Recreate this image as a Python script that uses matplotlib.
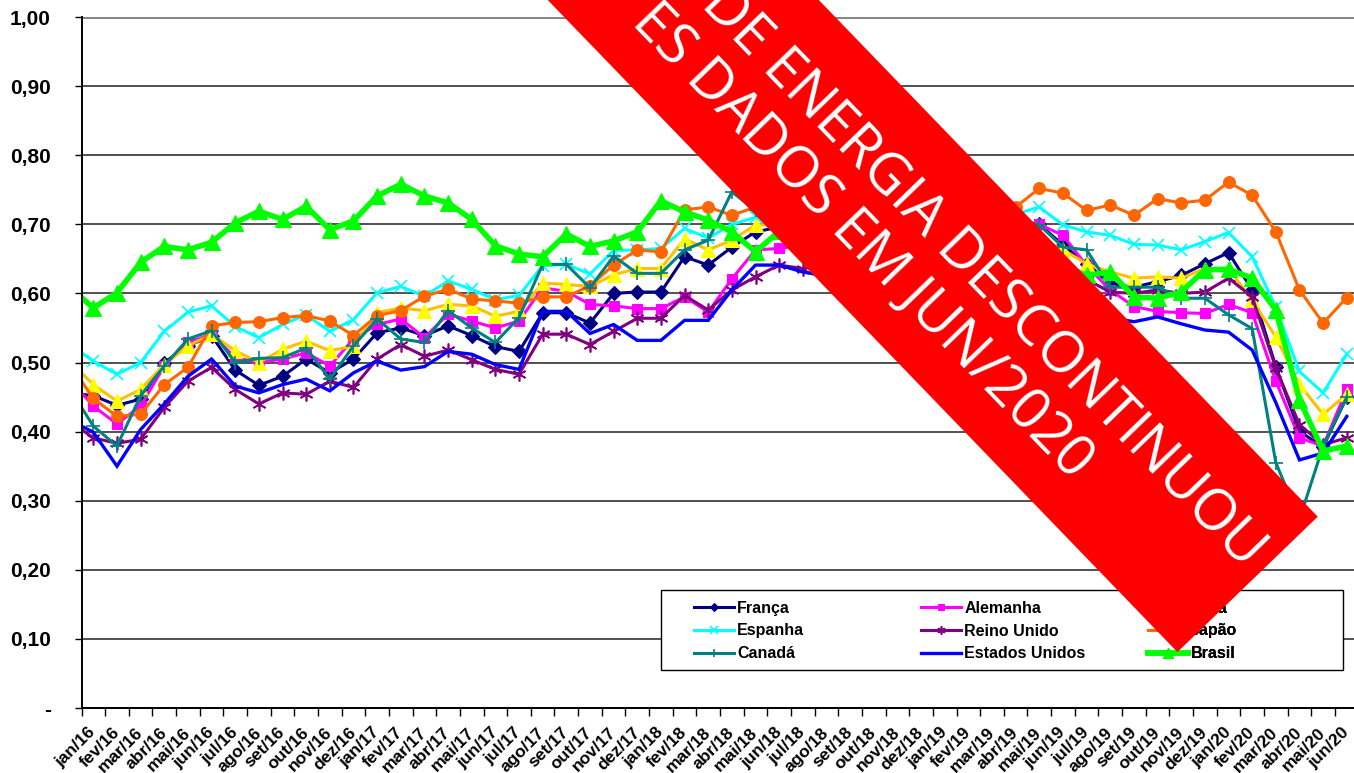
import matplotlib

matplotlib.use("Agg")
import matplotlib.pyplot as plt  # noqa: E402
import numpy as np  # noqa: E402
from matplotlib.patches import Polygon, Rectangle  # noqa: E402

W, H = 1354, 773

MESES = ["jan", "fev", "mar", "abr", "mai", "jun",
         "jul", "ago", "set", "out", "nov", "dez"]
ROTULOS = [f"{m}/{a}" for a in ("16", "17", "18", "19", "20") for m in MESES][:54]

# primeiro valor = dez/15 (fica fora da área do gráfico, só dá a entrada da linha)
FRANCA = [0.456,
          0.452, 0.438, 0.447, 0.500, 0.524, 0.539, 0.489, 0.467, 0.480, 0.505, 0.485, 0.505,
          0.543, 0.550, 0.539, 0.553, 0.539, 0.523, 0.516, 0.572, 0.572, 0.557, 0.600, 0.602,
          0.602, 0.653, 0.641, 0.667, 0.689, 0.696, 0.700, 0.710, 0.715, 0.705, 0.690, 0.675,
          0.680, 0.690, 0.700, 0.705, 0.700, 0.670, 0.643, 0.614, 0.609, 0.617, 0.626, 0.643,
          0.659, 0.605, 0.494, 0.400, 0.378, 0.450]
ALEMANHA = [0.475,
            0.437, 0.411, 0.437, 0.495, 0.529, 0.541, 0.507, 0.500, 0.505, 0.514, 0.495, 0.534,
            0.555, 0.563, 0.536, 0.570, 0.560, 0.550, 0.560, 0.608, 0.603, 0.584, 0.582, 0.578,
            0.578, 0.595, 0.573, 0.621, 0.663, 0.665, 0.670, 0.680, 0.690, 0.685, 0.670, 0.660,
            0.670, 0.680, 0.690, 0.700, 0.700, 0.684, 0.640, 0.605, 0.581, 0.574, 0.572, 0.571,
            0.584, 0.572, 0.473, 0.391, 0.379, 0.461]
ITALIA = [0.502,
          0.468, 0.444, 0.461, 0.497, 0.524, 0.541, 0.517, 0.500, 0.519, 0.531, 0.517, 0.524,
          0.572, 0.579, 0.575, 0.584, 0.582, 0.567, 0.574, 0.615, 0.613, 0.610, 0.627, 0.636,
          0.636, 0.679, 0.663, 0.677, 0.699, 0.700, 0.705, 0.715, 0.720, 0.710, 0.690, 0.670,
          0.675, 0.685, 0.690, 0.685, 0.680, 0.663, 0.643, 0.631, 0.622, 0.624, 0.622, 0.636,
          0.636, 0.590, 0.537, 0.468, 0.425, 0.454]
ESPANHA = [0.526,
           0.502, 0.483, 0.500, 0.545, 0.573, 0.582, 0.552, 0.536, 0.555, 0.569, 0.545, 0.562,
           0.601, 0.610, 0.596, 0.618, 0.606, 0.591, 0.597, 0.640, 0.642, 0.628, 0.662, 0.663,
           0.665, 0.694, 0.680, 0.700, 0.710, 0.715, 0.720, 0.730, 0.735, 0.725, 0.710, 0.695,
           0.700, 0.710, 0.720, 0.715, 0.725, 0.699, 0.689, 0.684, 0.671, 0.670, 0.663, 0.675,
           0.688, 0.653, 0.580, 0.487, 0.456, 0.512]
REINO_UNIDO = [0.415,
               0.391, 0.383, 0.389, 0.435, 0.473, 0.493, 0.461, 0.440, 0.456, 0.454, 0.473, 0.464,
               0.505, 0.526, 0.509, 0.518, 0.504, 0.490, 0.483, 0.541, 0.541, 0.526, 0.545, 0.564,
               0.564, 0.597, 0.576, 0.605, 0.624, 0.641, 0.636, 0.640, 0.650, 0.655, 0.650, 0.640,
               0.645, 0.650, 0.660, 0.665, 0.665, 0.640, 0.620, 0.602, 0.600, 0.605, 0.600, 0.602,
               0.622, 0.595, 0.492, 0.410, 0.381, 0.391]
JAPAO = [0.498,
         0.448, 0.422, 0.425, 0.468, 0.493, 0.553, 0.558, 0.559, 0.565, 0.568, 0.560, 0.539,
         0.568, 0.575, 0.596, 0.606, 0.592, 0.589, 0.586, 0.595, 0.595, 0.611, 0.641, 0.663,
         0.660, 0.721, 0.725, 0.713, 0.725, 0.730, 0.735, 0.740, 0.745, 0.740, 0.730, 0.720,
         0.725, 0.735, 0.740, 0.725, 0.752, 0.745, 0.720, 0.728, 0.713, 0.737, 0.731, 0.735,
         0.761, 0.742, 0.689, 0.605, 0.557, 0.594]
CANADA = [0.462,
          0.408, 0.379, 0.452, 0.495, 0.534, 0.546, 0.500, 0.506, 0.507, 0.521, 0.476, 0.524,
          0.563, 0.534, 0.529, 0.575, 0.550, 0.529, 0.565, 0.642, 0.642, 0.608, 0.654, 0.629,
          0.629, 0.663, 0.677, 0.747, 0.720, 0.700, 0.690, 0.700, 0.710, 0.700, 0.680, 0.660,
          0.670, 0.690, 0.700, 0.705, 0.699, 0.667, 0.663, 0.609, 0.609, 0.609, 0.593, 0.593,
          0.569, 0.549, 0.355, 0.273, 0.379, 0.450]
EUA = [0.417,
       0.399, 0.350, 0.403, 0.440, 0.480, 0.505, 0.466, 0.456, 0.468, 0.476, 0.459, 0.485,
       0.502, 0.489, 0.494, 0.516, 0.512, 0.497, 0.490, 0.574, 0.574, 0.542, 0.555, 0.532,
       0.532, 0.561, 0.561, 0.605, 0.641, 0.641, 0.631, 0.625, 0.630, 0.640, 0.630, 0.610,
       0.600, 0.610, 0.615, 0.620, 0.600, 0.585, 0.570, 0.565, 0.559, 0.566, 0.556, 0.547,
       0.544, 0.518, 0.442, 0.359, 0.369, 0.422]
BRASIL = [0.609,
          0.579, 0.601, 0.645, 0.668, 0.663, 0.674, 0.702, 0.719, 0.707, 0.726, 0.692, 0.705,
          0.741, 0.758, 0.741, 0.731, 0.707, 0.669, 0.657, 0.653, 0.686, 0.668, 0.676, 0.689,
          0.734, 0.718, 0.706, 0.689, 0.660, 0.690, 0.700, 0.710, 0.690, 0.680, 0.670, 0.660,
          0.660, 0.670, 0.660, 0.650, 0.645, 0.640, 0.626, 0.631, 0.595, 0.593, 0.602, 0.634,
          0.635, 0.622, 0.576, 0.446, 0.372, 0.379]

# nome, dados, cor da linha, marcador, cor do marcador, tam. marcador, espessura
SERIES = [
    ("França", FRANCA, "#000080", "D", "#000080", 7.5, 2.2),
    ("Alemanha", ALEMANHA, "#ff00ff", "s", "#ff00ff", 7.5, 2.2),
    ("Itália", ITALIA, "#ffc000", "^", "#ffff00", 9.5, 2.2),
    ("Espanha", ESPANHA, "#00ffff", "x", "#00ffff", 9.0, 2.2),
    ("Reino Unido", REINO_UNIDO, "#800080", (6, 2, 0), "#800080", 10.0, 2.2),
    ("Japão", JAPAO, "#ff6600", "o", "#ff6600", 8.5, 2.2),
    ("Canadá", CANADA, "#008080", "+", "#008080", 10.0, 2.2),
    ("Estados Unidos", EUA, "#0000ff", "None", "#0000ff", 0, 2.4),
    ("Brasil", BRASIL, "#00ff00", "^", "#00ff00", 12.0, 4.0),
]

BOLD = dict(family=["Liberation Sans", "DejaVu Sans"], weight="bold")

fig = plt.figure(figsize=(W / 100, H / 100), dpi=100)
fig.patch.set_facecolor("white")
ax = fig.add_axes([81.5 / W, 1 - 708 / H, (1358.6 - 81.5) / W, (708 - 17) / H])

x = np.arange(-1, 54)
handles = {}
for nome, vals, cor, mk, mcor, ms, lw in SERIES:
    fino = mk in ("x", "+", (6, 2, 0))
    (ln,) = ax.plot(x, vals, color=cor, lw=lw, marker=mk, ms=ms,
                    markerfacecolor=mcor, markeredgecolor=mcor,
                    markeredgewidth=1.2 if fino else 0.8,
                    solid_joinstyle="miter", zorder=2, label=nome)
    handles[nome] = ln

ax.set_xlim(-0.5, 53.5)
ax.set_ylim(0, 1.0)
ax.set_yticks(np.arange(0, 1.001, 0.1))
ax.set_yticklabels(["-"] + [f"{v:.2f}".replace(".", ",")
                            for v in np.arange(0.1, 1.001, 0.1)], **BOLD, fontsize=15)
ax.set_xticks(range(54))
ax.set_xticklabels(ROTULOS, rotation=45, ha="right", va="center",
                   rotation_mode="anchor", fontsize=12.5, **BOLD)
ax.set_xticks(np.arange(-0.5, 54, 1), minor=True)
ax.tick_params(axis="x", which="major", length=0, pad=16)
ax.tick_params(axis="x", which="minor", length=6, width=1, color="black")
ax.tick_params(axis="y", length=5, width=1, color="black", pad=17)

ax.yaxis.grid(True, color="#333333", lw=1.2)
ax.set_axisbelow(True)
for lado in ("top", "right"):
    ax.spines[lado].set_visible(False)
for lado in ("left", "bottom"):
    ax.spines[lado].set_color("black")
    ax.spines[lado].set_linewidth(1.4)
ax.get_ygridlines()[-1].set_color("#888888")
ax.get_ygridlines()[-1].set_linewidth(2.2)

# legenda: caixa única, três colunas com largura fixa
ax.add_patch(Rectangle((661 / W, 1 - 670 / H), (1343 - 661) / W, 80 / H,
                       transform=fig.transFigure, facecolor="white",
                       edgecolor="black", lw=1.0, zorder=4.5, clip_on=False))
colunas = [["França", "Espanha", "Canadá"],
           ["Alemanha", "Reino Unido", "Estados Unidos"],
           ["Itália", "Japão", "Brasil"]]
for xc, nomes in zip((694, 921, 1148), colunas):
    leg = ax.legend([handles[n] for n in nomes], nomes, loc="center left",
                    bbox_to_anchor=(xc / W, 1 - 631 / H),
                    bbox_transform=fig.transFigure, frameon=False,
                    prop=dict(family=["Liberation Sans", "DejaVu Sans"],
                              weight="bold", size=11.5),
                    handlelength=2.5, handletextpad=0.2, labelspacing=0.48,
                    borderpad=0, borderaxespad=0, markerscale=0.6)
    leg.set_zorder(5)
    ax.add_artist(leg)

# faixa vermelha
th = np.deg2rad(46)
d = np.array([np.cos(th), np.sin(th)])
nv = np.array([np.sin(th), -np.cos(th)])


def fpos(u, n):
    px, py = u * d + n * nv
    return px / W, 1 - py / H


faixa = Polygon([fpos(-500, 394), fpos(1287, 394), fpos(1287, 589), fpos(-500, 589)],
                closed=True, transform=fig.transFigure, facecolor="#ff0000",
                edgecolor="none", zorder=20)
fig.add_artist(faixa)
for texto, u, n in (("DE ENERGIA DESCONTINUOU", 1274, 499.0),
                    ("ES DADOS EM JUN/2020", 1090, 437.5)):
    fig.text(*fpos(u, n), texto, rotation=-46, rotation_mode="anchor",
             ha="right", va="baseline", color="white", fontsize=41,
             family=["Open Sans", "DejaVu Sans"], zorder=21)

fig.savefig("out.png", dpi=100, facecolor="white")
